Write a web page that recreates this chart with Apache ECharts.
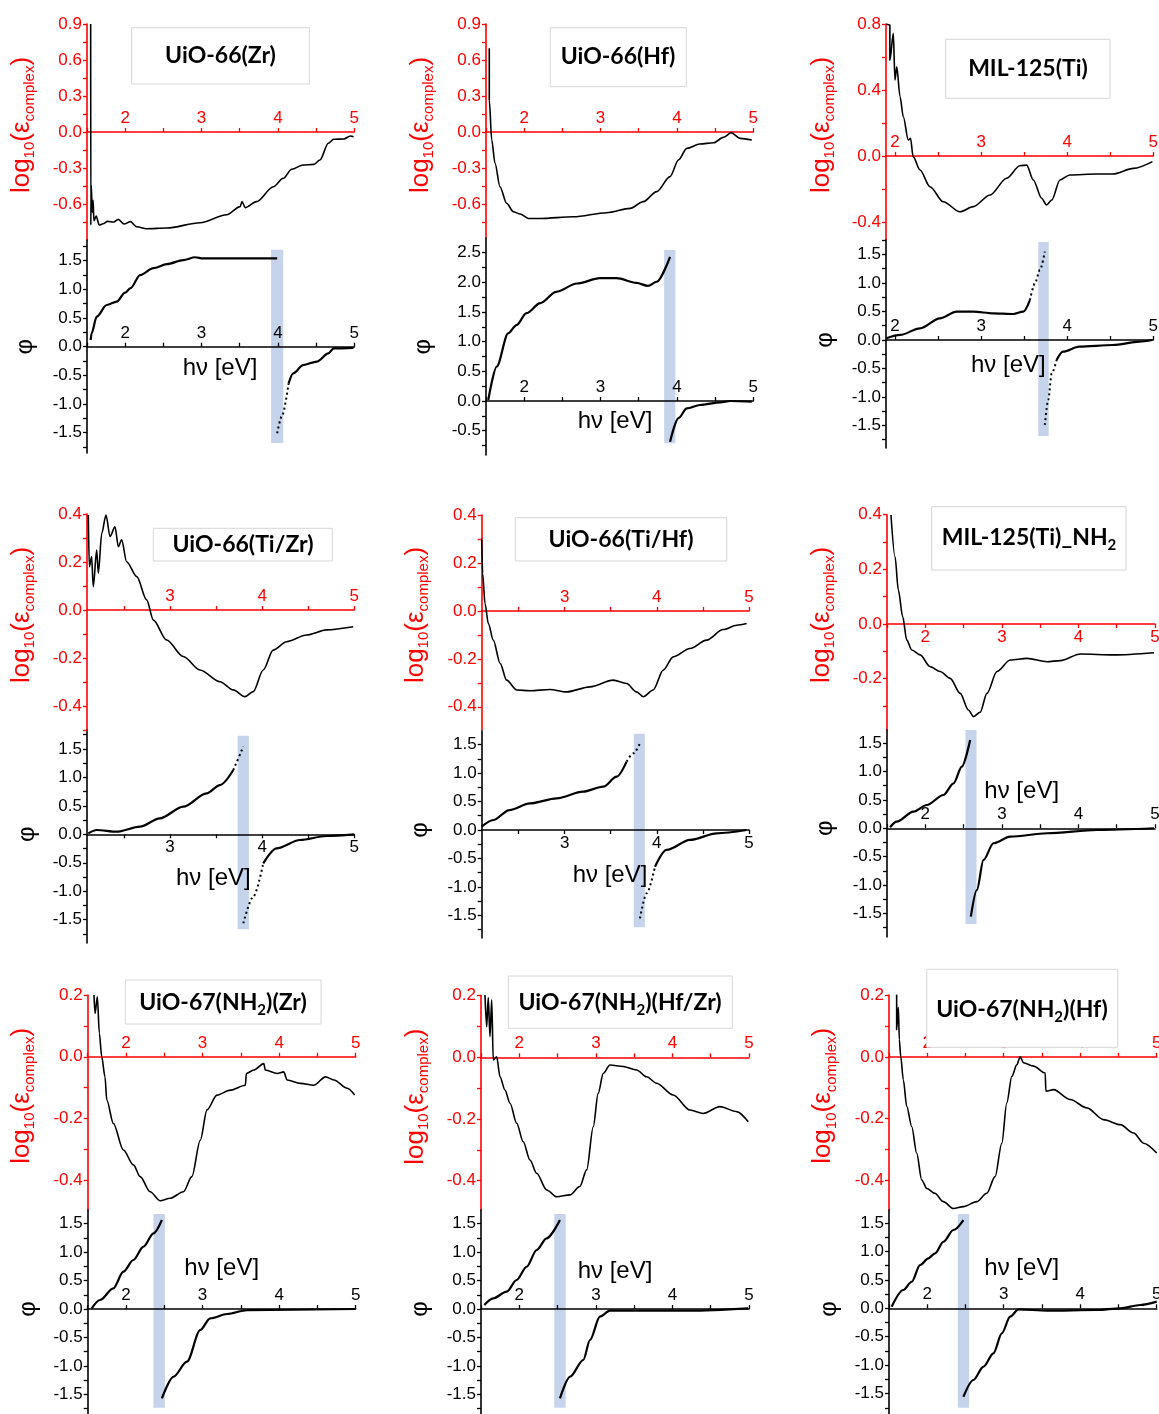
<!DOCTYPE html>
<html><head><meta charset="utf-8">
<script src="https://cdn.jsdelivr.net/npm/echarts@6/dist/echarts.min.js"></script>
<style>html,body{margin:0;padding:0;background:#fff}#c{width:1159px;height:1414px}</style>
</head><body><div id="c"></div>
<script>
// ---------------- DATA ----------------
const titles = ['UiO-66(Zr)','UiO-66(Hf)','MIL-125(Ti)','UiO-66(Ti/Zr)','UiO-66(Ti/Hf)','MIL-125(Ti)_NH{s|2}','UiO-67(NH{s|2})(Zr)','UiO-67(NH{s|2})(Hf/Zr)','UiO-67(NH{s|2})(Hf)'];

const xLabelsA = [2,3,4,5];
const xLabelsB = [3,4,5];
const epsLabels09 = [-0.6,-0.3,0,0.3,0.6,0.9];
const epsLabels08 = [-0.4,0,0.4,0.8];
const epsLabels04 = [-0.4,-0.2,0,0.2,0.4];
const epsLabels04b = [-0.2,0,0.2,0.4];
const epsLabels02 = [-0.4,-0.2,0,0.2];
const phiLabels15 = [-1.5,-1,-0.5,0,0.5,1,1.5];
const phiLabels25 = [-0.5,0,0.5,1,1.5,2,2.5];

// UiO-66(Zr)
const p1Eps = [[1.548,0.9],[1.55,-0.775],[1.555,-0.44],[1.57,-0.67],[1.58,-0.57],[1.59,-0.74],[1.62,-0.70],[1.66,-0.775],[1.71,-0.765],[1.77,-0.745],[1.85,-0.75],[1.91,-0.728],[1.985,-0.767],[2.07,-0.747],[2.15,-0.789],[2.28,-0.806],[2.545,-0.80],[2.98,-0.756],[3.33,-0.69],[3.505,-0.622],[3.53,-0.58],[3.57,-0.63],[3.72,-0.58],[3.94,-0.456],[4.07,-0.386],[4.18,-0.311],[4.33,-0.275],[4.47,-0.27],[4.55,-0.233],[4.66,-0.094],[4.73,-0.061],[4.86,-0.058],[4.95,-0.033],[4.99,-0.04]];
const p1PhiPos = [[1.548,0.117],[1.56,0.233],[1.627,0.523],[1.758,0.727],[1.89,0.785],[1.998,0.942],[2.07,1.02],[2.195,1.25],[2.37,1.37],[2.545,1.44],[2.76,1.51],[2.915,1.56],[3.02,1.54],[3.99,1.54]];
const p1PhiNeg = [[3.99,-1.51],[4.05,-1.22],[4.14,-0.64],[4.2,-0.465],[4.33,-0.32],[4.51,-0.26],[4.66,-0.116],[4.73,-0.03],[4.99,-0.02]];
const p1BandX = [3.91,4.07], p1BandY = [-1.68,1.69];

// UiO-66(Hf)
const p2Eps = [[1.543,0.697],[1.543,0.267],[1.575,-0.067],[1.618,-0.26],[1.683,-0.456],[1.77,-0.594],[1.858,-0.664],[1.946,-0.683],[2.055,-0.72],[2.21,-0.72],[2.645,-0.706],[3.08,-0.672],[3.387,-0.636],[3.56,-0.58],[3.735,-0.497],[3.91,-0.372],[4.02,-0.233],[4.13,-0.136],[4.3,-0.1],[4.48,-0.089],[4.61,-0.044],[4.71,-0.006],[4.83,-0.053],[4.98,-0.067]];
const p2PhiPos = [[1.53,0.017],[1.64,0.58],[1.79,1.14],[1.9,1.28],[2.03,1.48],[2.21,1.65],[2.42,1.84],[2.69,1.98],[2.99,2.07],[3.21,2.07],[3.47,1.99],[3.62,1.94],[3.735,2.01],[3.91,2.43]];
const p2PhiNeg = [[3.91,-0.686],[4.02,-0.29],[4.13,-0.124],[4.3,-0.067],[4.57,-0.022],[4.7,0.0],[4.98,-0.01]];
const p2BandX = [3.833,3.98], p2BandY = [-0.71,2.545];

// MIL-125(Ti)
const p3Eps = [[1.90,0.8],[1.94,0.794],[1.94,0.58],[1.98,0.743],[1.999,0.46],[2.02,0.54],[2.058,0.36],[2.096,0.238],[2.154,0.097],[2.18,0.107],[2.21,-0.004],[2.29,-0.085],[2.406,-0.186],[2.56,-0.277],[2.754,-0.338],[2.909,-0.307],[3.103,-0.236],[3.297,-0.135],[3.45,-0.059],[3.529,-0.055],[3.606,-0.145],[3.703,-0.256],[3.76,-0.297],[3.82,-0.267],[3.916,-0.145],[4.03,-0.115],[4.34,-0.109],[4.53,-0.109],[4.77,-0.075],[4.99,-0.034]];
const p3PhiPos = [[1.90,0.03],[2.06,0.088],[2.29,0.205],[2.52,0.38],[2.716,0.497],[2.909,0.497],[3.14,0.468],[3.373,0.456],[3.49,0.497],[3.567,0.70],[3.625,0.995],[3.683,1.228],[3.74,1.55]];
const p3PhiNeg = [[3.74,-1.49],[3.78,-1.05],[3.82,-0.584],[3.877,-0.351],[3.95,-0.205],[4.14,-0.117],[4.53,-0.088],[4.84,-0.03],[4.99,0.0]];
const p3BandX = [3.664,3.785], p3BandY = [-1.684,1.72];

// UiO-66(Ti/Zr)
const p4Eps = [[2.114,0.396],[2.125,0.18],[2.15,0.222],[2.168,0.097],[2.205,0.25],[2.223,0.153],[2.26,0.32],[2.306,0.396],[2.35,0.306],[2.404,0.347],[2.44,0.264],[2.476,0.292],[2.53,0.201],[2.64,0.139],[2.747,0.042],[2.82,-0.042],[2.964,-0.125],[3.144,-0.194],[3.326,-0.25],[3.543,-0.299],[3.687,-0.333],[3.814,-0.361],[3.904,-0.34],[4.012,-0.25],[4.12,-0.167],[4.266,-0.132],[4.483,-0.104],[4.7,-0.083],[4.988,-0.07]];
const p4PhiPos = [[2.114,0.017],[2.205,0.076],[2.42,0.046],[2.675,0.134],[2.89,0.281],[3.144,0.485],[3.398,0.72],[3.543,0.866],[3.687,1.13],[3.796,1.54]];
const p4PhiNeg = [[3.796,-1.564],[3.904,-1.097],[4.012,-0.51],[4.157,-0.246],[4.41,-0.1],[4.7,-0.03],[5.0,0.0]];
const p4BandX = [3.734,3.857], p4BandY = [-1.67,1.73];

// UiO-66(Ti/Hf)
const p5Eps = [[2.1,0.302],[2.11,0.156],[2.136,0.031],[2.172,-0.053],[2.226,-0.122],[2.3,-0.219],[2.37,-0.289],[2.48,-0.33],[2.624,-0.333],[2.84,-0.328],[3.02,-0.338],[3.275,-0.317],[3.527,-0.289],[3.672,-0.303],[3.78,-0.338],[3.853,-0.358],[3.96,-0.33],[4.07,-0.247],[4.178,-0.192],[4.36,-0.157],[4.54,-0.122],[4.72,-0.078],[4.866,-0.06],[4.974,-0.053]];
const p5PhiPos = [[2.1,0.058],[2.226,0.175],[2.4,0.35],[2.624,0.468],[2.913,0.556],[3.2,0.673],[3.42,0.76],[3.564,0.936],[3.672,1.2],[3.745,1.345],[3.817,1.52]];
const p5PhiNeg = [[3.817,-1.55],[3.89,-1.11],[3.98,-0.644],[4.106,-0.35],[4.36,-0.175],[4.65,-0.058],[4.974,0.0]];
const p5BandX = [3.75,3.87], p5BandY = [-1.707,1.69];

// MIL-125(Ti)_NH2
const p6Eps = [[1.552,0.399],[1.605,0.246],[1.648,0.124],[1.705,0.027],[1.758,-0.059],[1.823,-0.095],[1.932,-0.113],[2.063,-0.156],[2.194,-0.174],[2.325,-0.199],[2.456,-0.254],[2.564,-0.315],[2.63,-0.339],[2.717,-0.323],[2.805,-0.254],[2.936,-0.174],[3.11,-0.132],[3.328,-0.126],[3.59,-0.138],[3.764,-0.134],[4.026,-0.11],[4.46,-0.113],[4.986,-0.105]];
const p6PhiPos = [[1.54,0.018],[1.627,0.116],[1.845,0.293],[2.02,0.41],[2.237,0.586],[2.37,0.792],[2.477,1.085],[2.586,1.555]];
const p6PhiNeg = [[2.595,-1.556],[2.674,-1.086],[2.76,-0.558],[2.89,-0.264],[3.11,-0.148],[3.59,-0.088],[4.245,-0.03],[4.986,0.0]];
const p6BandX = [2.525,2.669], p6BandY = [-1.685,1.73];

// UiO-67(NH2)(Zr)
const p7Eps = [[1.582,0.2],[1.596,0.14],[1.626,0.194],[1.652,0.076],[1.683,0.0],[1.726,-0.065],[1.749,-0.14],[1.835,-0.216],[1.966,-0.302],[2.097,-0.35],[2.185,-0.388],[2.315,-0.437],[2.446,-0.466],[2.577,-0.458],[2.75,-0.437],[2.86,-0.388],[2.97,-0.27],[3.058,-0.172],[3.188,-0.124],[3.362,-0.108],[3.559,-0.092],[3.572,-0.054],[3.668,-0.043],[3.8,-0.022],[3.82,-0.043],[3.974,-0.054],[4.06,-0.049],[4.105,-0.075],[4.279,-0.086],[4.453,-0.092],[4.606,-0.065],[4.715,-0.075],[4.89,-0.102],[4.986,-0.124]];
const p7PhiPos = [[1.552,0.012],[1.66,0.158],[1.835,0.363],[1.966,0.656],[2.097,0.861],[2.228,1.095],[2.359,1.33],[2.469,1.564]];
const p7PhiNeg = [[2.469,-1.57],[2.62,-1.19],[2.796,-0.926],[2.97,-0.369],[3.1,-0.164],[3.32,-0.088],[3.58,-0.018],[4.99,0.0]];
const p7BandX = [2.359,2.508], p7BandY = [-1.735,1.67];

// UiO-67(NH2)(Hf/Zr)
const p8Eps = [[1.552,0.202],[1.574,0.099],[1.595,0.194],[1.617,0.067],[1.64,0.186],[1.66,-0.009],[1.705,0.002],[1.748,-0.063],[1.813,-0.106],[1.879,-0.149],[1.966,-0.214],[2.052,-0.274],[2.14,-0.333],[2.227,-0.376],[2.358,-0.43],[2.488,-0.452],[2.662,-0.446],[2.79,-0.419],[2.88,-0.365],[2.966,-0.225],[3.03,-0.117],[3.097,-0.052],[3.184,-0.025],[3.358,-0.03],[3.532,-0.041],[3.663,-0.063],[3.793,-0.084],[4.01,-0.122],[4.228,-0.171],[4.402,-0.182],[4.62,-0.16],[4.838,-0.176],[4.99,-0.209]];
const p8PhiPos = [[1.543,0.07],[1.66,0.188],[1.835,0.304],[1.966,0.51],[2.096,0.743],[2.227,1.037],[2.357,1.242],[2.531,1.564]];
const p8PhiNeg = [[2.531,-1.57],[2.662,-1.19],[2.836,-0.896],[2.923,-0.545],[3.053,-0.135],[3.184,-0.03],[4.228,-0.03],[4.99,0.01]];
const p8BandX = [2.457,2.606], p8BandY = [-1.735,1.67];

// UiO-67(NH2)(Hf)
const p9Eps = [[1.6,0.202],[1.6,0.088],[1.622,0.16],[1.635,0.056],[1.653,0.002],[1.687,-0.074],[1.732,-0.16],[1.797,-0.225],[1.862,-0.311],[1.928,-0.398],[1.993,-0.425],[2.1,-0.441],[2.21,-0.468],[2.342,-0.49],[2.473,-0.484],[2.648,-0.468],[2.778,-0.441],[2.887,-0.387],[2.975,-0.279],[3.04,-0.149],[3.106,-0.063],[3.172,-0.025],[3.215,0.0],[3.258,-0.019],[3.39,-0.03],[3.542,-0.052],[3.551,-0.111],[3.651,-0.106],[3.869,-0.138],[4.088,-0.165],[4.305,-0.203],[4.524,-0.219],[4.698,-0.246],[4.829,-0.279],[5.0,-0.311]];
const p9PhiPos = [[1.535,0.029],[1.687,0.322],[1.797,0.467],[1.906,0.761],[2.015,0.879],[2.103,0.967],[2.212,1.17],[2.342,1.376],[2.473,1.552]];
const p9PhiNeg = [[2.473,-1.554],[2.604,-1.26],[2.735,-1.026],[2.865,-0.791],[2.975,-0.44],[3.084,-0.147],[3.193,-0.018],[3.565,-0.041],[4.22,-0.03],[4.524,0.0],[4.785,0.058],[5.0,0.117]];
const p9BandX = [2.4,2.548], p9BandY = [-1.747,1.657];

// ---------------- LAYOUT ----------------
const L = [
 {eps:p1Eps,pos:p1PhiPos,neg:p1PhiNeg,bx:p1BandX,by:p1BandY,xMin:1.5,xl:xLabelsA,tl:epsLabels09,bl:phiLabels15,tr:[-0.9,0.9],br:[-1.854,1.861],
  left:87,width:267.3,topT:24,hT:216,topB:240,hB:213,tIn:true,bIn:true,dotNeg:4.14,
  box:[131.7,27.7,177.6,56.3],tc:[220.5,56],yl:[21.7,125],ph:[25.8,346.7],hv:[220,368]},
 {eps:p2Eps,pos:p2PhiPos,neg:p2PhiNeg,bx:p2BandX,by:p2BandY,xMin:1.5,xl:xLabelsA,tl:epsLabels09,bl:phiLabels25,tr:[-0.883,0.9],br:[-0.91,2.747],
  left:486,width:267.3,topT:24,hT:214,topB:238,hB:217,tIn:true,bIn:true,
  box:[550.3,27.7,136,59],tc:[618,57],yl:[420.8,125],ph:[423.3,346.7],hv:[615,421.7]},
 {eps:p3Eps,pos:p3PhiPos,neg:p3PhiNeg,bx:p3BandX,by:p3BandY,xMin:1.895,xl:xLabelsA,tl:epsLabels08,bl:phiLabels15,tr:[-0.509,0.8],br:[-1.895,1.754],
  left:886,width:267.3,topT:24,hT:216,topB:240,hB:208,tIn:true,bIn:true,dotPos:3.567,dotNeg:3.877,
  box:[945.7,39.3,164.3,59],tc:[1028,69],yl:[821.7,125],ph:[825,340],hv:[1008.3,365]},
 {eps:p4Eps,pos:p4PhiPos,neg:p4PhiNeg,bx:p4BandX,by:p4BandY,xMin:2.1,xl:xLabelsB,tl:epsLabels04,bl:phiLabels15,tr:[-0.5,0.4],br:[-1.91,1.833],
  left:87,width:267.3,topT:514,hT:216,topB:730,hB:213,tIn:true,bIn:false,dotPos:3.687,dotNeg:4.012,
  box:[153.3,528.3,179,32.7],tc:[243,545],yl:[21.7,615],ph:[27.5,834.3],hv:[213.3,878.3]},
 {eps:p5Eps,pos:p5PhiPos,neg:p5PhiNeg,bx:p5BandX,by:p5BandY,xMin:2.1,xl:xLabelsB,tl:epsLabels04,bl:phiLabels15,tr:[-0.497,0.4],br:[-1.895,1.737],
  left:481.7,width:267.3,topT:515,hT:215,topB:731,hB:207,tIn:true,bIn:false,dotPos:3.672,dotNeg:3.98,
  box:[515.3,517.7,211.4,43.3],tc:[621,540],yl:[415.8,615],ph:[420.8,830],hv:[610,875]},
 {eps:p6Eps,pos:p6PhiPos,neg:p6PhiNeg,bx:p6BandX,by:p6BandY,xMin:1.5,xl:xLabelsA,tl:epsLabels04b,bl:phiLabels15,tr:[-0.388,0.4],br:[-1.914,1.73],
  left:887,width:268,topT:514.7,hT:215.3,topB:730,hB:207,tIn:false,bIn:true,
  box:[931.7,506.7,194.3,63.3],tc:[1029,538],yl:[821.7,615],ph:[825.8,828.3],hv:[1021.7,791.7]},
 {eps:p7Eps,pos:p7PhiPos,neg:p7PhiNeg,bx:p7BandX,by:p7BandY,xMin:1.5,xl:xLabelsA,tl:epsLabels02,bl:phiLabels15,tr:[-0.496,0.2],br:[-1.845,1.74],
  left:87.7,width:268,topT:995,hT:215,topB:1210,hB:204,tIn:true,bIn:true,
  box:[125.3,980,195.7,44],tc:[223,1003],yl:[21.7,1095.8],ph:[28.3,1309],hv:[221.7,1268.3]},
 {eps:p8Eps,pos:p8PhiPos,neg:p8PhiNeg,bx:p8BandX,by:p8BandY,xMin:1.5,xl:xLabelsA,tl:epsLabels02,bl:phiLabels15,tr:[-0.495,0.2],br:[-1.845,1.74],
  left:481,width:268,topT:995.6,hT:214.4,topB:1210,hB:204,tIn:true,bIn:true,
  box:[508.3,976,224,52.3],tc:[620,1003],yl:[415.8,1096.7],ph:[420.8,1309],hv:[615,1271.7]},
 {eps:p9Eps,pos:p9PhiPos,neg:p9PhiNeg,bx:p9BandX,by:p9BandY,xMin:1.5,xl:xLabelsA,tl:epsLabels02,bl:phiLabels15,tr:[-0.495,0.2],br:[-1.858,1.728],
  left:889,width:267.7,topT:995,hT:215,topB:1210,hB:204,tIn:true,bIn:true,
  box:[926.7,969.3,191,78],tc:[1022,1010],yl:[823.3,1095.8],ph:[829.2,1309],hv:[1021.7,1268.3]}
];

const FONT = '"Liberation Sans", Arial, sans-serif';
const RED = '#ff0000';
const BLK = '#000000';
const BAND = '#c5d3eb';

function withMinor(labels, min, max){
  const step = labels[1]-labels[0];
  const out = labels.slice();
  out.push(labels[0]-step/2);
  labels.forEach(v=>out.push(v+step/2));
  return out.filter(v=>v>=min-1e-9 && v<=max+1e-9);
}

const grids=[], xAxes=[], yAxes=[], series=[], graphics=[];

// x axis placed at y = 0 by shifting it up from the grid bottom
function addX(gi, p, color, inside, range, h){
  const off = h * range[0] / (range[1]-range[0]);
  xAxes.push({type:'value', gridIndex:gi, min:p.xMin, max:5, position:'bottom', offset:off, z:3,
    axisLine:{show:true, onZero:false, lineStyle:{color, width:1.6}},
    axisTick:{show:true, inside, length:4, customValues: withMinor(p.xl, p.xMin, 5), lineStyle:{color, width:1.3}},
    axisLabel:{show:true, inside, margin:5, color, fontSize:17, fontFamily:FONT, customValues:p.xl, formatter:v=>String(Math.round(v))},
    splitLine:{show:false}});
}
function addY(gi, range, labels, color){
  yAxes.push({type:'value', gridIndex:gi, min:range[0], max:range[1], z:3,
    axisLine:{show:true, onZero:false, lineStyle:{color, width:1.6}},
    axisTick:{show:true, inside:false, length:4, customValues: withMinor(labels, range[0], range[1]), lineStyle:{color, width:1.3}},
    axisLabel:{show:true, margin:5, color, fontSize:17, fontFamily:FONT, customValues:labels, formatter:v=>v.toFixed(1)},
    splitLine:{show:false}});
}
function lineSeries(gi, data, width, dotted){
  return {type:'line', xAxisIndex:gi, yAxisIndex:gi, data, showSymbol:false, symbol:'none',
    smooth:0.3, smoothMonotone:'x', z:5, silent:true,
    lineStyle:{color:BLK, width, type: dotted ? [2,3] : 'solid'}};
}

L.forEach((p,i)=>{
  const gt = grids.length;
  grids.push({left:p.left, top:p.topT, width:p.width, height:p.hT, containLabel:false, outerBoundsMode:'none'});
  addX(gt, p, RED, p.tIn, p.tr, p.hT);
  addY(gt, p.tr, p.tl, RED);
  series.push(lineSeries(gt, p.eps, 1.6, false));

  const gb = grids.length;
  grids.push({left:p.left, top:p.topB, width:p.width, height:p.hB, containLabel:false, outerBoundsMode:'none'});
  addX(gb, p, BLK, p.bIn, p.br, p.hB);
  addY(gb, p.br, p.bl, BLK);
  series.push({type:'line', xAxisIndex:gb, yAxisIndex:gb, data:[], z:1, silent:true,
    markArea:{silent:true, itemStyle:{color:BAND, opacity:1}, data:[[{coord:[p.bx[0], p.by[0]]},{coord:[p.bx[1], p.by[1]]}]]}});
  if (p.dotPos !== undefined) {
    series.push(lineSeries(gb, p.pos.filter(d=>d[0]<=p.dotPos), 2.2, false));
    series.push(lineSeries(gb, p.pos.filter(d=>d[0]>=p.dotPos), 2, true));
  } else series.push(lineSeries(gb, p.pos, 2.2, false));
  if (p.dotNeg !== undefined) {
    series.push(lineSeries(gb, p.neg.filter(d=>d[0]<=p.dotNeg), 2, true));
    series.push(lineSeries(gb, p.neg.filter(d=>d[0]>=p.dotNeg), 2.2, false));
  } else series.push(lineSeries(gb, p.neg, 2.2, false));

  graphics.push({type:'rect', z:100, shape:{x:p.box[0], y:p.box[1], width:p.box[2], height:p.box[3]},
    style:{fill:'#ffffff', stroke:'#d6d6d6', lineWidth:1}});
  graphics.push({type:'text', z:101, x:p.tc[0], y:p.tc[1],
    style:{text:titles[i], fontSize:23, fontWeight:'bold', fontFamily:'Lato', fill:BLK, align:'center', verticalAlign:'middle',
      rich:{s:{fontSize:15, fontWeight:'bold', fontFamily:'Lato', fill:BLK, verticalAlign:'top', padding:[15,0,0,0]}}}});
  graphics.push({type:'text', z:101, x:p.yl[0], y:p.yl[1], rotation:Math.PI/2,
    style:{text:'log{s|10}(ε{s|complex})', fontSize:26, fontFamily:FONT, fill:RED, align:'center', verticalAlign:'middle',
      rich:{s:{fontSize:15, fontFamily:FONT, fill:RED, verticalAlign:'top', padding:[17,0,0,0]}}}});
  graphics.push({type:'text', z:101, x:p.ph[0], y:p.ph[1], rotation:Math.PI/2,
    style:{text:'φ', fontSize:24, fontFamily:FONT, fill:BLK, align:'center', verticalAlign:'middle'}});
  graphics.push({type:'text', z:101, x:p.hv[0], y:p.hv[1],
    style:{text:'hν [eV]', fontSize:24, fontFamily:FONT, fill:BLK, align:'center', verticalAlign:'middle'}});
});

const chart = echarts.init(document.getElementById('c'), null, {renderer:'canvas'});
chart.setOption({animation:false, backgroundColor:'#ffffff', grid:grids, xAxis:xAxes, yAxis:yAxes, series, graphic:graphics});
</script>
</body></html>
